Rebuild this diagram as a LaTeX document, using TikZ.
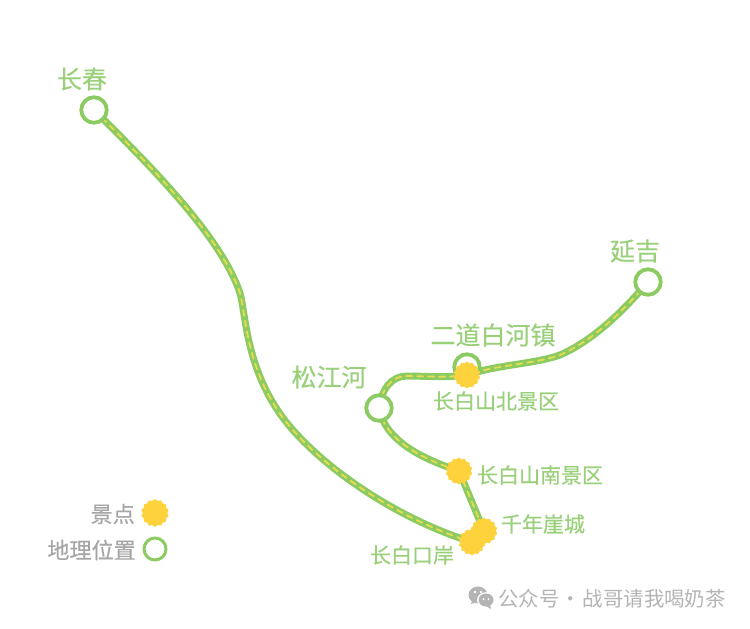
\documentclass[tikz,border=0pt]{standalone}
\usepackage{fontspec}
\setmainfont{Noto Sans CJK SC}
\newfontfamily\heavier[FakeBold=0.35]{Noto Sans CJK SC}
\usetikzlibrary{shapes.geometric,backgrounds}
\definecolor{routegreen}{HTML}{8CCB62}
\definecolor{labelgreen}{HTML}{9AD07A}
\definecolor{dashyellow}{HTML}{E9DC50}
\definecolor{sunyellow}{HTML}{FDD23C}
\definecolor{legendgray}{HTML}{A6A6A6}
\definecolor{markgray}{HTML}{B4B4B4}
\tikzset{
  x=1pt,y=-1pt,
  route/.style={draw=routegreen,line width=7pt,line cap=round,
    postaction={draw=dashyellow,line width=1.8pt,dash pattern=on 6pt off 5pt}},
  place/.style={circle,draw=routegreen,line width=3.8pt,fill=white,minimum size=25.5pt,inner sep=0pt},
  sight/.style={star,star points=14,star point ratio=1.14,fill=sunyellow,draw=none,minimum size=27pt,inner sep=0pt},
  biglabel/.style={text=labelgreen,font=\heavier\fontsize{25}{25}\selectfont,inner sep=0pt},
  smalllabel/.style={text=labelgreen,font=\heavier\fontsize{21}{21}\selectfont,inner sep=0pt},
  legendlabel/.style={text=legendgray,font=\heavier\fontsize{22.1}{22}\selectfont,inner sep=0pt},
  marklabel/.style={text=markgray,font=\fontsize{20.4}{20}\selectfont,inner sep=0pt}
}
\begin{document}
\begin{tikzpicture}
\useasboundingbox (0,0) rectangle (750,629);
% places
\node[place] (cc) at (94,110) {};
\node[place] (yj) at (648,282) {};
\node[place] (ed) at (467,367) {};
\node[place] (sj) at (379,408) {};
% sights
\node[sight] (bei) at (467,375) {};
\node[sight] (nan) at (459,471) {};
\node[sight] (qn) at (484,531) {};
\node[sight] (ka) at (472,542) {};
% routes
\begin{scope}[on background layer]
\fill[white] (0,0) rectangle (750,629);
\draw[route] (cc.center) .. controls (160,175) and (222,240) .. (240,293)
  .. controls (246,315) and (246,372) .. (287,423)
  .. controls (325,470) and (400,520) .. (ka.center);
\draw[route] (yj.center) .. controls (620,315) and (590,342) .. (560,355)
  .. controls (535,364) and (495,365) .. (bei.center);
\draw[route] (bei.center) .. controls (445,378) and (425,376) .. (407,376)
  .. controls (392,376) and (382,388) .. (sj.center);
\draw[route] (sj.center) .. controls (385,440) and (420,458) .. (nan.center);
\draw[route] (nan.center) -- (qn.center);
\draw[route] (qn.center) -- (ka.center);
\end{scope}
% labels
\node[biglabel] (lcc) at (82,79) {长春};
\node[biglabel] (lyj) at (635,251) {延吉};
\node[biglabel] (led) at (493,335) {二道白河镇};
\node[biglabel] (lsj) at (329,377) {松江河};
\node[smalllabel] (lbei) at (496,401) {长白山北景区};
\node[smalllabel] (lnan) at (540,475) {长白山南景区};
\node[smalllabel] (lqn) at (543,524) {千年崖城};
\node[smalllabel] (lka) at (412,555) {长白口岸};
% legend
\node[sight,minimum size=28pt] (ls) at (155,513) {};
\node[place,minimum size=22pt,line width=3pt] (lp) at (155,549) {};
\node[legendlabel,anchor=east] (ts) at (135,514) {景点};
\node[legendlabel,anchor=east] (tp) at (136,550) {地理位置};
% watermark
\fill[markgray] (478,595) ellipse (9.5 and 8.5);
\fill[markgray] (471,604) -- (473,598) -- (477,602) -- cycle;
\fill[white] (486,600) ellipse (9 and 7.8);
\fill[markgray] (486,600) ellipse (7.5 and 6.5);
\fill[markgray] (491,609) -- (490,604) -- (486,606) -- cycle;
\fill[white] (475,592) circle (1.3) (481,592) circle (1.3) (483.5,599) circle (1) (488.5,599) circle (1);
\node[marklabel,anchor=west] (wm) at (498,599) {公众号\kern-3pt\ ·\ \kern-3pt 战哥请我喝奶茶};
\end{tikzpicture}
\end{document}
